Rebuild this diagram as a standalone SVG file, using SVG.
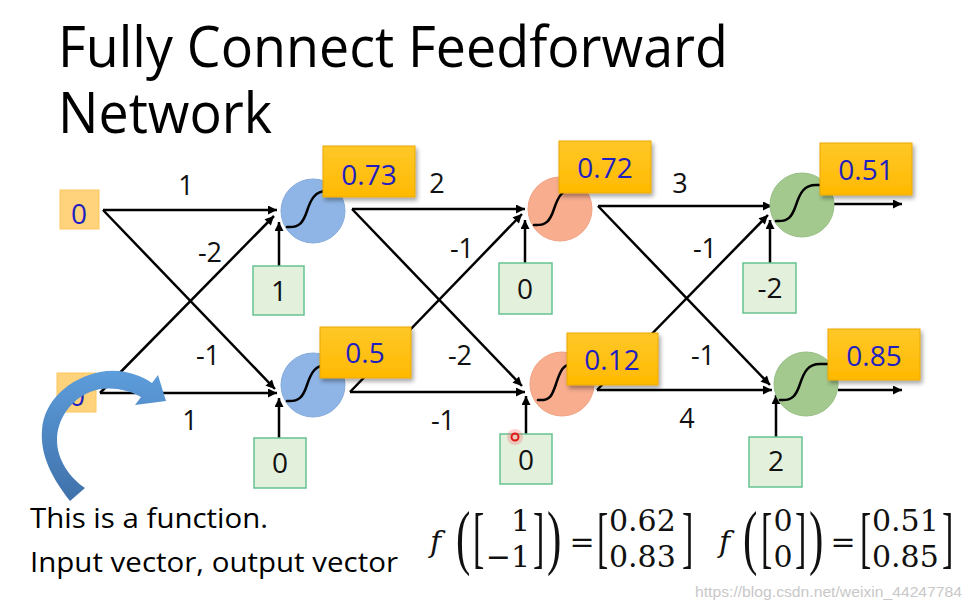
<svg xmlns="http://www.w3.org/2000/svg" width="974" height="608" viewBox="0 0 974 608">
<defs>
<style>
.t{font-family:"Open Sans","Noto Sans","Liberation Sans",sans-serif;fill:#000}
.w{font-family:"Open Sans","Noto Sans","Liberation Sans",sans-serif;font-size:27px;fill:#111;text-anchor:middle}
.v{font-family:"Open Sans","Noto Sans","Liberation Sans",sans-serif;font-size:28px;fill:#1f1fc0;text-anchor:middle}
.b{font-family:"Open Sans","Noto Sans","Liberation Sans",sans-serif;font-size:28px;fill:#111;text-anchor:middle}
.m{font-family:"DejaVu Serif","Liberation Serif",serif;font-size:30px;fill:#111}
.d{font-family:"Liberation Serif","DejaVu Serif",serif;fill:#111}
.ln{stroke:#000;stroke-width:2.5;fill:none;marker-end:url(#ah)}
.inb{fill:#ffd27c;stroke:#ffc860;stroke-width:1}
.bias{fill:#e3f0dc;stroke:#66c291;stroke-width:1.5}
.lab{fill:url(#gy);stroke:#eaa800;stroke-width:1;filter:url(#sh)}
.c1{fill:#8fb5e6;stroke:#86abdc;stroke-width:1}
.c2{fill:#f7ad8e;stroke:#f0a283;stroke-width:1}
.c3{fill:#a4c98f;stroke:#98bf85;stroke-width:1}
.sig{fill:none;stroke:#000;stroke-width:2.5;stroke-linecap:round}
</style>
<marker id="ah" viewBox="0 0 10 10" refX="10" refY="5" markerWidth="11" markerHeight="9" markerUnits="userSpaceOnUse" orient="auto">
<path d="M0,0 L10,5 L0,10 z" fill="#000"/>
</marker>
<linearGradient id="gy" x1="0" y1="0" x2="0" y2="1">
<stop offset="0" stop-color="#ffc829"/>
<stop offset="1" stop-color="#ffb900"/>
</linearGradient>
<linearGradient id="gb" x1="0" y1="0" x2="0" y2="1">
<stop offset="0" stop-color="#5d9ddb"/>
<stop offset="1" stop-color="#3f71aa"/>
</linearGradient>
<filter id="sh" x="-20%" y="-20%" width="150%" height="160%">
<feDropShadow dx="2" dy="3" stdDeviation="2" flood-color="#000" flood-opacity="0.35"/>
</filter>
</defs>
<rect width="974" height="608" fill="#fff"/>

<g id="title">
<text class="t" x="58" y="67" font-size="56" textLength="670" lengthAdjust="spacingAndGlyphs">Fully Connect Feedforward</text>
<text class="t" x="58" y="133" font-size="56" textLength="214" lengthAdjust="spacingAndGlyphs">Network</text>
</g>

<g id="connectors">
<path class="ln" d="M103,210 L277,210"/>
<path class="ln" d="M103,210 L275,389"/>
<path class="ln" d="M100,393 L277,393"/>
<path class="ln" d="M100,393 L274,216"/>
<path class="ln" d="M279,266 L279,222"/>
<path class="ln" d="M279,438 L279,398"/>
<path class="ln" d="M352,209 L525,209"/>
<path class="ln" d="M352,209 L522,386"/>
<path class="ln" d="M350,392 L525,392"/>
<path class="ln" d="M350,392 L522,214"/>
<path class="ln" d="M525,263 L525,220"/>
<path class="ln" d="M526,434 L526,396"/>
<path class="ln" d="M598,206 L772,206"/>
<path class="ln" d="M598,206 L770,385"/>
<path class="ln" d="M597,390 L772,390"/>
<path class="ln" d="M597,390 L768,215"/>
<path class="ln" d="M770,263 L770,220"/>
<path class="ln" d="M776,437 L776,395"/>
<path class="ln" d="M834,204 L902,204"/>
<path class="ln" d="M838,390 L902,390"/>
<g id="weights">
<text class="w" x="186" y="195">1</text>
<text class="w" x="210" y="262">-2</text>
<text class="w" x="208" y="365">-1</text>
<text class="w" x="190" y="430">1</text>
<text class="w" x="437" y="193">2</text>
<text class="w" x="462" y="258">-1</text>
<text class="w" x="460" y="365">-2</text>
<text class="w" x="443" y="430">-1</text>
<text class="w" x="680" y="193">3</text>
<text class="w" x="705" y="258">-1</text>
<text class="w" x="703" y="365">-1</text>
<text class="w" x="687" y="428">4</text>
</g>
</g>

<g id="in1">
<rect class="inb" x="60" y="190" width="39" height="39"/>
<text class="v" x="79" y="224">0</text>
</g>
<g id="in2">
<rect class="inb" x="57" y="373" width="39" height="39"/>
<text class="v" x="77" y="406">0</text>
</g>

<g id="h1a">
<circle class="c1" cx="313" cy="211" r="32"/>
<path class="sig" d="M287,227 C299,228 303,223 307,211 S315,191 327,191 L335,191"/>
<rect class="lab" x="323" y="146" width="92" height="51"/>
<text class="v" x="369" y="185">0.73</text>
</g>
<g id="h1b">
<circle class="c1" cx="313" cy="385" r="32"/>
<path class="sig" d="M287,401 C299,402 303,397 307,385 S315,365 327,365 L335,365"/>
<rect class="lab" x="320" y="327" width="91" height="51"/>
<text class="v" x="365" y="363">0.5</text>
</g>
<g id="h2a">
<circle class="c2" cx="560" cy="209" r="32"/>
<path class="sig" d="M534,225 C546,226 550,221 554,209 S562,189 574,189 L582,189"/>
<rect class="lab" x="559" y="141" width="92" height="52"/>
<text class="v" x="605" y="178">0.72</text>
</g>
<g id="h2b">
<circle class="c2" cx="562" cy="384" r="32"/>
<path class="sig" d="M538,400 C550,401 552,396 556,384 S562,364 574,364 L582,364"/>
<rect class="lab" x="567" y="333" width="91" height="52"/>
<text class="v" x="612" y="370">0.12</text>
</g>
<g id="o1">
<circle class="c3" cx="802" cy="205" r="32"/>
<path class="sig" d="M776,221 C788,222 792,217 796,205 S804,185 816,185 L824,185"/>
<rect class="lab" x="820" y="143" width="92" height="52"/>
<text class="v" x="866" y="180">0.51</text>
</g>
<g id="o2">
<circle class="c3" cx="806" cy="384" r="32"/>
<path class="sig" d="M780,400 C792,401 796,396 800,384 S808,364 820,364 L830,364"/>
<rect class="lab" x="828" y="329" width="92" height="51"/>
<text class="v" x="874" y="366">0.85</text>
</g>

<g id="b1a"><rect class="bias" x="253" y="266" width="51" height="49"/><text class="b" x="279" y="301">1</text></g>
<g id="b1b"><rect class="bias" x="254" y="438" width="52" height="50"/><text class="b" x="280" y="473">0</text></g>
<g id="b2a"><rect class="bias" x="499" y="263" width="53" height="51"/><text class="b" x="525" y="299">0</text></g>
<g id="b2b"><rect class="bias" x="500" y="434" width="52" height="50"/><text class="b" x="526" y="470">0</text></g>
<g id="b3a"><rect class="bias" x="743" y="263" width="53" height="50"/><text class="b" x="770" y="298">-2</text></g>
<g id="b3b"><rect class="bias" x="749" y="437" width="53" height="50"/><text class="b" x="776" y="471">2</text></g>

<g id="cursor">
<circle cx="515" cy="437" r="8" fill="#ff5050" opacity="0.25"/>
<circle cx="515" cy="437" r="3.5" fill="none" stroke="#e01818" stroke-width="2"/>
</g>

<g id="curved-arrow">
<path d="M70,501 C52,478 40,455 42,430 C44,400 70,378 100,372 C122,368 140,375 152,383 L158,375 L166,401 L135,405 L141,397 C125,388 105,386 90,392 C70,400 57,420 57,440 C57,460 70,478 85,488 Z" fill="url(#gb)"/>
</g>

<g id="caption">
<text class="t" x="30" y="528" font-size="27" textLength="238" lengthAdjust="spacingAndGlyphs">This is a function.</text>
<text class="t" x="30" y="572" font-size="27" textLength="368" lengthAdjust="spacingAndGlyphs">Input vector, output vector</text>
</g>

<g id="formula1">
<text class="m" x="430" y="552" font-size="34" font-style="italic">f</text>
<text class="d" font-size="72" transform="translate(456,561) scale(0.6,1)">(</text>
<text class="d" font-size="68" transform="translate(473,560) scale(0.5,1)">[</text>
<text class="m" x="530" y="531" text-anchor="end">1</text>
<text class="m" x="530" y="567" text-anchor="end">−1</text>
<text class="d" font-size="68" transform="translate(533,560) scale(0.5,1)">]</text>
<text class="d" font-size="72" transform="translate(547,561) scale(0.6,1)">)</text>
<text class="m" x="582" y="552" text-anchor="middle">=</text>
<text class="d" font-size="68" transform="translate(597,560) scale(0.5,1)">[</text>
<text class="m" x="609" y="531">0.62</text>
<text class="m" x="609" y="567">0.83</text>
<text class="d" font-size="68" transform="translate(682,560) scale(0.5,1)">]</text>
</g>
<g id="formula2">
<text class="m" x="719" y="552" font-size="34" font-style="italic">f</text>
<text class="d" font-size="72" transform="translate(743,561) scale(0.6,1)">(</text>
<text class="d" font-size="68" transform="translate(761,560) scale(0.5,1)">[</text>
<text class="m" x="783" y="531" text-anchor="middle">0</text>
<text class="m" x="783" y="567" text-anchor="middle">0</text>
<text class="d" font-size="68" transform="translate(795,560) scale(0.5,1)">]</text>
<text class="d" font-size="72" transform="translate(809,561) scale(0.6,1)">)</text>
<text class="m" x="843" y="552" text-anchor="middle">=</text>
<text class="d" font-size="68" transform="translate(860,560) scale(0.5,1)">[</text>
<text class="m" x="872" y="531">0.51</text>
<text class="m" x="872" y="567">0.85</text>
<text class="d" font-size="68" transform="translate(942,560) scale(0.5,1)">]</text>
</g>

<g id="watermark">
<text x="695" y="597" font-family="Liberation Sans, Arial, sans-serif" font-size="14" fill="#c8c8c8" textLength="267" lengthAdjust="spacingAndGlyphs">https://blog.csdn.net/weixin_44247784</text>
</g>
</svg>
